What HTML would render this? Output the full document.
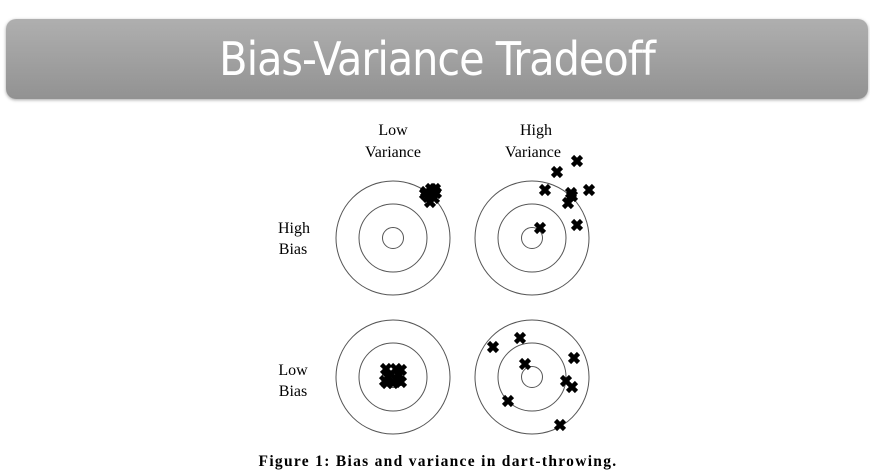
<!DOCTYPE html>
<html><head><meta charset="utf-8"><style>
html,body{margin:0;padding:0;background:#fff;width:870px;height:473px;overflow:hidden}
#banner{position:absolute;left:6px;top:19px;width:862px;height:80px;border-radius:10px;background:linear-gradient(#afafaf,#929292);box-shadow:0 1px 3px rgba(0,0,0,.35);color:#fff;font-family:"DejaVu Sans Condensed","Liberation Sans",sans-serif;font-size:46px;text-align:center;line-height:80px;letter-spacing:-1px}
svg{position:absolute;left:0;top:0}
</style></head><body>
<div id="banner">Bias-Variance Tradeoff</div>
<svg id="chart" width="870" height="473" font-family="'Liberation Serif',serif">
<g font-size="16" fill="#000" text-anchor="middle">
<text x="393" y="135">Low</text>
<text x="393" y="157">Variance</text>
<text x="536" y="135">High</text>
<text x="533" y="157">Variance</text>
<text x="294" y="233">High</text>
<text x="293" y="254">Bias</text>
<text x="293" y="375">Low</text>
<text x="293" y="396">Bias</text>
</g>
<text x="438" y="466" text-anchor="middle" font-size="15.5" font-weight="bold" letter-spacing="1.3">Figure 1: Bias and variance in dart-throwing.</text>
</svg>
<script>
const panels=['high-bias-low-var','high-bias-high-var','low-bias-low-var','low-bias-high-var'];
const centersX=[393,532,393,532];
const centersY=[238,238,377,377];
const radii=[57,34,10.5];
const dxTLBLV=[33,38,43,35,41,37,32,42,38];
const dyTLBLV=[-46,-49,-45,-41,-40,-36,-44,-49,-43];
const dxHBHV=[45,25,13,39,57,36,45,8,40];
const dyHBHV=[-77,-66,-48,-45,-48,-35,-13,-10,-42];
const dxLBLV=[-7,3,-5,6,0,-6,5,-2,8,8,-8];
const dyLBLV=[-8,-8,0,-2,6,6,3,-3,5,-7,4];
const dxLBHV=[-39,-12,-7,42,34,40,-24,28];
const dyLBHV=[-30,-39,-13,-19,4,10,24,48];
const dartsX=[dxTLBLV,dxHBHV,dxLBLV,dxLBHV];
const dartsY=[dyTLBLV,dyHBHV,dyLBLV,dyLBHV];
const svg=document.getElementById('chart');
const NS='http://www.w3.org/2000/svg';
panels.forEach((p,i)=>{
  const g=document.createElementNS(NS,'g');
  
  
  radii.forEach(r=>{
    const c=document.createElementNS(NS,'circle');
    c.setAttribute('cx',centersX[i]);c.setAttribute('cy',centersY[i]);c.setAttribute('r',r);
    c.setAttribute('fill','none');c.setAttribute('stroke','#555');c.setAttribute('stroke-width','1');
    
    
    g.appendChild(c);
  });
  dartsX[i].forEach((dx,j)=>{
    const x=centersX[i]+dx,y=centersY[i]+dartsY[i][j],s=4.5;
    const path=document.createElementNS(NS,'path');
    path.setAttribute('d',`M${x-s},${y-s}L${x+s},${y+s}M${x+s},${y-s}L${x-s},${y+s}`);
    path.setAttribute('stroke','#000');path.setAttribute('stroke-width','4.5');
    
    
    g.appendChild(path);
  });
  svg.appendChild(g);
});
</script>
</body></html>
